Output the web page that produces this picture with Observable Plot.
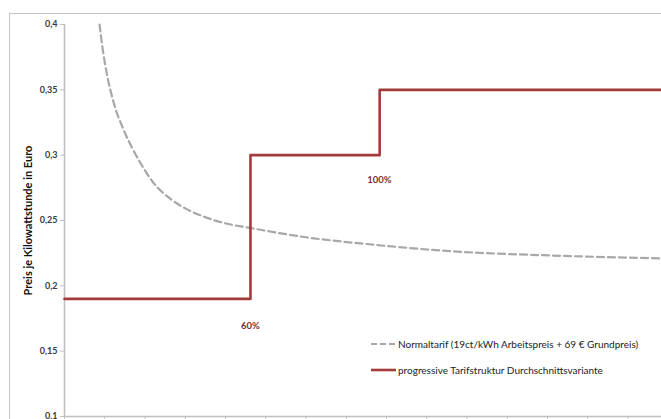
<!DOCTYPE html>
<html>
<head>
<meta charset="utf-8">
<script src="https://cdn.jsdelivr.net/npm/d3@7"></script>
<script src="https://cdn.jsdelivr.net/npm/@observablehq/plot@0.6"></script>
<style>
  html, body { margin: 0; padding: 0; background: #fff; overflow: hidden; }
  #wrap { position: relative; width: 661px; height: 419px; font-family: Lato, "Open Sans", sans-serif; }
  #frame { position: absolute; left: 9px; top: 13px; width: 700px; height: 450px; border-left: 1.5px solid #c4c4c4; border-top: 1.5px solid #c4c4c4; pointer-events: none; }
  #legend { position: absolute; left: 371px; top: 336px; font-size: 10px; color: #222; }
  .item { display: flex; align-items: center; height: 16px; margin-bottom: 10px; }
  .sw { width: 25px; margin-right: 2px; }
</style>
</head>
<body>
<div id="wrap">
  <div id="frame"></div>
  <div id="chart"></div>
  <div id="legend">
    <div class="item"><svg class="sw" width="25" height="6"><line x1="0" y1="3" x2="25" y2="3" stroke="#a8a8a8" stroke-width="2.2" stroke-dasharray="6,3"/></svg><span>Normaltarif (19ct/kWh Arbeitspreis + 69 € Grundpreis)</span></div>
    <div class="item"><svg class="sw" width="25" height="6"><line x1="0" y1="3" x2="25" y2="3" stroke="#a33b3b" stroke-width="2.6"/></svg><span>progressive Tarifstruktur Durchschnittsvariante</span></div>
  </div>
</div>
<script>
// consumption (kWh) and price per kWh (EUR)
const normalX = [435, 468, 530, 612, 737, 841, 944, 1109, 1317, 1524, 1772, 2021, 2289, 3018, 3838, 4918, 5912, 7402];
const normalY = [0.400, 0.384, 0.361, 0.340, 0.319, 0.3055, 0.294, 0.2785, 0.2665, 0.2585, 0.252, 0.2475, 0.2445, 0.237, 0.2315, 0.226, 0.2235, 0.221];

const progX = [0, 2310, 3915, 7420];
const progY = [0.19, 0.30, 0.35, 0.35];

const stepLabels = ["60%", "100%"];
const stepLabelX = [2310, 3912];
const stepLabelY = [0.1695, 0.2814];

const yTicks = [0.1, 0.15, 0.2, 0.25, 0.3, 0.35, 0.4];
const xTicks = d3.range(0, 7500, 500);
const yTitle = "Preis je Kilowattstunde in Euro";

const normal = normalX.map((x, i) => ({x, y: normalY[i]}));
const prog = progX.map((x, i) => ({x, y: progY[i]}));
const labels = stepLabels.map((t, i) => ({t, x: stepLabelX[i], y: stepLabelY[i]}));

const plot = Plot.plot({
  width: 661,
  height: 419,
  marginLeft: 64,
  marginTop: 24,
  marginBottom: 3,
  marginRight: 0,
  style: {fontFamily: "Lato, 'Open Sans', sans-serif", fontSize: "9px", background: "transparent", overflow: "visible"},
  x: {domain: [0, 7416]},
  y: {domain: [0.1, 0.4]},
  marks: [
    Plot.axisY({ticks: yTicks, tickSize: 4, tickPadding: 3, stroke: "#bfbfbf", fill: "#3a3a3a", tickFormat: d => String(d).replace(".", ","), label: null, fontWeight: "bold"}),
    Plot.axisX({ticks: xTicks, tickSize: 6, stroke: "#bfbfbf", tickFormat: () => "", label: null}),
    Plot.ruleX([0], {stroke: "#c0c0c0", strokeWidth: 1.6}),
    Plot.ruleY([0.1], {stroke: "#c0c0c0", strokeWidth: 1.6}),
    Plot.line(normal, {x: "x", y: "y", curve: "monotone-x", stroke: "#a8a8a8", strokeWidth: 2.2, strokeDasharray: "7,4"}),
    Plot.line(prog, {x: "x", y: "y", curve: "step-after", stroke: "#a33b3b", strokeWidth: 2.6}),
    Plot.text(labels, {x: "x", y: "y", text: "t", fill: "#7d2f2f", fontWeight: "bold", fontSize: 9.5}),
    Plot.text([yTitle], {frameAnchor: "left", textAnchor: "middle", dx: -36, rotate: -90, fontWeight: "bold", fontSize: 11, fill: "#111"})
  ]
});
document.getElementById("chart").appendChild(plot);
</script>
</body>
</html>
